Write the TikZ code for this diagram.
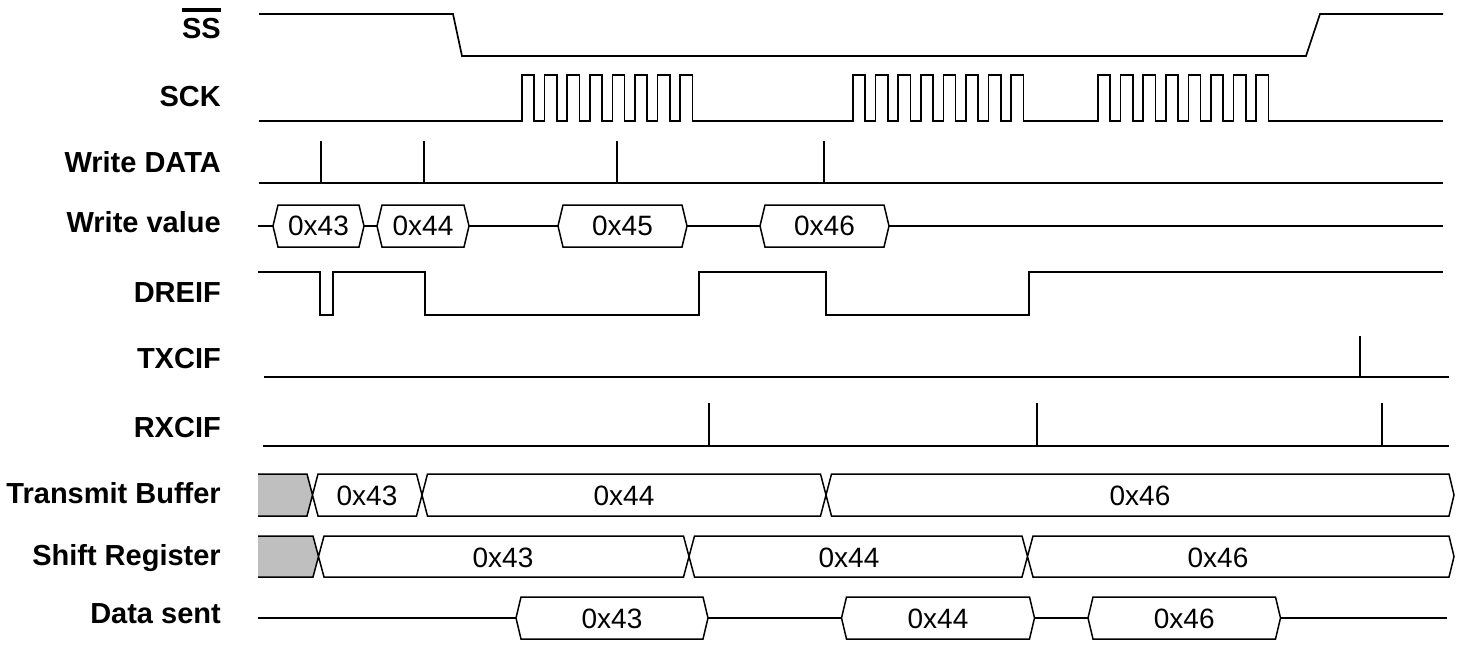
\documentclass[tikz,border=0pt]{standalone}
\usepackage{fontspec}
\setmainfont{Liberation Sans}
\usetikzlibrary{calc}
\newcommand{\busval}[5]{% name, x-left, x-right, y-centre, text
  \draw[bus] (#2,#4) -- (#2+5,#4-21) -- (#3-5,#4-21) -- (#3,#4) -- (#3-5,#4+21) -- (#2+5,#4+21) -- cycle;
  \node[val] (#1) at ({(#2+#3)/2},#4+10) {#5};
}
\begin{document}
\begin{tikzpicture}[x=1pt,y=-1pt,
  sig/.style={line width=1.7pt, line join=miter},
  bus/.style={line width=1.5pt, line join=miter, fill=white},
  tickln/.style={line width=1.5pt},
  lab/.style={anchor=base east, inner sep=0pt, font=\fontsize{29}{31}\selectfont\bfseries},
  val/.style={anchor=base, inner sep=0pt, font=\fontsize{28}{30}\selectfont},
  greyfill/.style={fill=black!25, draw=none}]
\useasboundingbox (0,0) rectangle (1468,650);

% labels
\node[lab] (lss) at (221,39) {\leavevmode\vbox{\hrule height 4pt\kern 7pt\hbox{SS}}};
\node[lab] (lsck) at (221,107) {SCK};
\node[lab] (lwd) at (221,172) {Write DATA};
\node[lab] (lwv) at (221,233) {Write value};
\node[lab] (ldre) at (221,302) {DREIF};
\node[lab] (ltxc) at (221,368) {TXCIF};
\node[lab] (lrxc) at (221,437) {RXCIF};
\node[lab] (ltb) at (221,503) {Transmit Buffer};
\node[lab] (lsr) at (221,565) {Shift Register};
\node[lab] (lds) at (221,623) {Data sent};

% SS
\draw[sig] (259,14) -- (453,14) -- (462,56) -- (1306,56) -- (1320,14) -- (1443,14);

% SCK
\draw[sig] (259,121) -- (522,121)
  \foreach \k in {0,...,7} { -- ++(0,-46) -- ++(12.2,0) -- ++(0,46) -- ++(10.4,0) }
  -- (853,121)
  \foreach \k in {0,...,7} { -- ++(0,-46) -- ++(12.2,0) -- ++(0,46) -- ++(10.4,0) }
  -- (1098,121)
  \foreach \k in {0,...,7} { -- ++(0,-46) -- ++(12.2,0) -- ++(0,46) -- ++(10.4,0) }
  -- (1443,121);

% Write DATA
\draw[sig] (259,183) -- (1443,183);
\foreach \t in {321,424,617,824} \draw[tickln] (\t,141) -- (\t,183);

% Write value
\draw[sig] (258,226) -- (1443,226);
\busval{wv1}{273}{364}{226}{0x43}
\busval{wv2}{377}{469}{226}{0x44}
\busval{wv3}{558}{687}{226}{0x45}
\busval{wv4}{760}{889}{226}{0x46}

% DREIF
\draw[sig] (258,272) -- (320,272) -- (320,315) -- (333,315) -- (333,272) -- (425,272) -- (425,315)
  -- (699,315) -- (699,272) -- (826,272) -- (826,315) -- (1029,315) -- (1029,272) -- (1443,272);

% TXCIF
\draw[sig] (264,377) -- (1449,377);
\draw[tickln] (1360,336) -- (1360,377);

% RXCIF
\draw[sig] (263,446) -- (1449,446);
\foreach \t in {709,1037,1382} \draw[tickln] (\t,403) -- (\t,446);

% Transmit Buffer
\fill[greyfill] (258,474) -- (307,474) -- (312.5,495) -- (307,516) -- (258,516) -- cycle;
\draw[bus, fill=none] (258,474) -- (307,474) -- (318,516) -- (416.5,516) -- (427.5,474) -- (820.5,474) -- (831.5,516)
  -- (1449,516) -- (1454,495) -- (1449,474) -- (831.5,474) -- (820.5,516) -- (427.5,516) -- (416.5,474)
  -- (318,474) -- (307,516) -- (258,516);
\node[val] (tb1) at (367,505) {0x43};
\node[val] (tb2) at (624,505) {0x44};
\node[val] (tb3) at (1140,505) {0x46};

% Shift Register
\fill[greyfill] (258,536) -- (313,536) -- (318.5,556.5) -- (313,577) -- (258,577) -- cycle;
\draw[bus, fill=none] (258,536) -- (313,536) -- (324,577) -- (683.5,577) -- (694.5,536) -- (1022,536) -- (1033,577)
  -- (1449,577) -- (1454,556.5) -- (1449,536) -- (1033,536) -- (1022,577) -- (694.5,577) -- (683.5,536)
  -- (324,536) -- (313,577) -- (258,577);
\node[val] (sr1) at (503,567) {0x43};
\node[val] (sr2) at (849,567) {0x44};
\node[val] (sr3) at (1218,567) {0x46};

% Data sent
\draw[sig] (258,618) -- (1447,618);
\busval{ds1}{516}{708}{618}{0x43}
\busval{ds2}{841.5}{1034.5}{618}{0x44}
\busval{ds3}{1088}{1280.5}{618}{0x46}
\end{tikzpicture}
\end{document}
